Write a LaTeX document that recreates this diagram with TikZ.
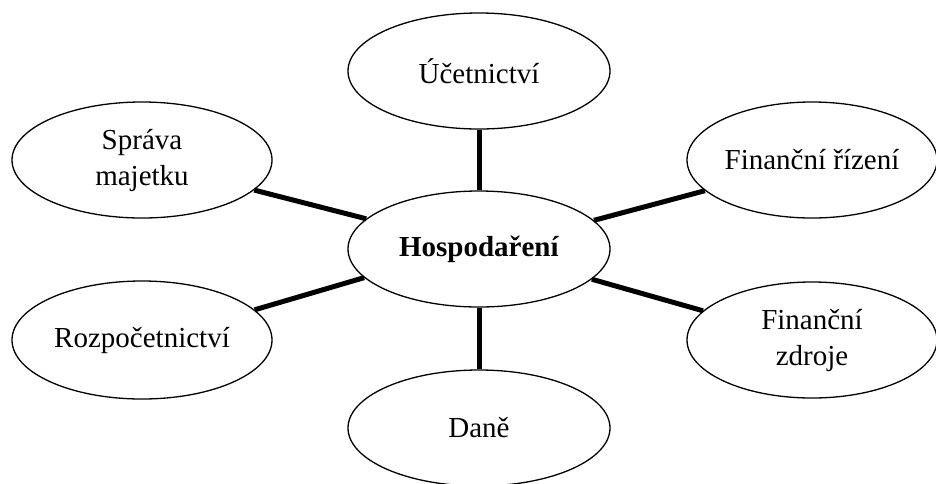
\documentclass[tikz,border=0pt]{standalone}
\usepackage{fontspec}
\setmainfont{Liberation Serif}
\usetikzlibrary{shapes.geometric}
\begin{document}
\begin{tikzpicture}[x=1pt,y=-1pt,
  bubble/.style={draw=black,line width=1.3pt,ellipse,inner sep=0pt,
    minimum width=262pt,minimum height=116pt,align=center,
    font=\fontsize{29}{36}\selectfont},
  link/.style={draw=black,line width=5pt}]
\useasboundingbox (0,0) rectangle (936,483);
\begin{scope}
\clip (0,0) rectangle (936,483);
\node[bubble] (u) at (479,71) {Účetnictví};
\node[bubble] (h) at (479,249) {\textbf{Hospodaření}};
\node[bubble] (d) at (479,428) {Daně};
\node[bubble,minimum width=260pt] (sm) at (142,160) {Správa\\majetku};
\node[bubble,minimum width=260pt,minimum height=118pt] (r) at (142,340) {Rozpočetnictví};
\node[bubble,minimum width=250pt] (fr) at (812,160) {Finanční řízení};
\node[bubble,minimum width=250pt] (fz) at (812,340) {Finanční\\zdroje};
\draw[link] (u.south) -- (h.north);
\draw[link] (h.south) -- (d.north);
\draw[link] (sm.-15.5) -- (h.165.5);
\draw[link] (r.15.5) -- (h.194.5);
\draw[link] (fr.196) -- (h.14);
\draw[link] (fz.165) -- (h.-15);
\end{scope}
\end{tikzpicture}
\end{document}
